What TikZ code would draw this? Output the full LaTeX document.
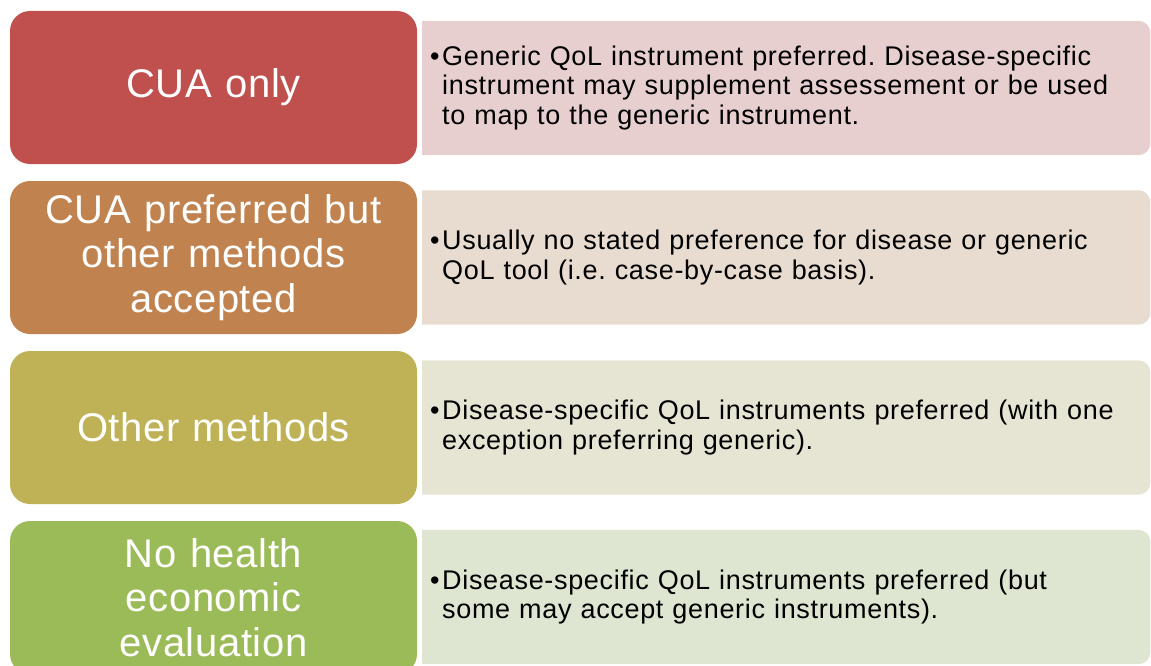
\documentclass[tikz,border=0pt]{standalone}
\usepackage{fontspec}
\setmainfont{Liberation Sans}
\newfontfamily\methodfont[LetterSpace=1.5, WordSpace=1.4]{Liberation Sans}
\newfontfamily\notefont[LetterSpace=2.5, WordSpace=2]{Liberation Sans}
\definecolor{cuared}{RGB}{192, 80, 77}
\definecolor{cuaorange}{RGB}{192, 131, 80}
\definecolor{otherolive}{RGB}{191, 178, 86}
\definecolor{nonegreen}{RGB}{155, 187, 89}
\definecolor{cuapink}{RGB}{232, 207, 207}
\definecolor{cuatan}{RGB}{232, 220, 208}
\definecolor{othercream}{RGB}{230, 229, 212}
\definecolor{nonesage}{RGB}{222, 230, 209}
\usepackage{tikz}
\usetikzlibrary{backgrounds}
\frenchspacing

\tikzset{
  method/.style={fill=#1, rounded corners=20pt, minimum width=407pt, minimum height=153pt,
    text width=395pt, align=center, inner sep=0pt, text=white,
    font=\methodfont\fontsize{40}{44.5}\selectfont},
  note/.style={anchor=west, minimum height=134pt, text width=712pt, inner xsep=8pt,
    inner ysep=0pt, align=left, font=\notefont\fontsize{27}{29.5}\selectfont},
  notefill/.style={fill=#1, rounded corners=12pt},
}
% bullet with the lines hanging after it
\newcommand{\qolnote}[1]{\makebox[12pt][l]{•}\parbox[t]{700pt}{\raggedright #1}}

\begin{document}
\begin{tikzpicture}[x=1pt, y=-1pt]
  \useasboundingbox (0, 0) rectangle (1151, 666);

  % Methods
  \node[method=cuared] (cuaonly) at (213.5, 87.5) {CUA only};
  \node[method=cuaorange] (cuapref) at (213.5, 257.5) {CUA preferred but\\other methods\\accepted};
  \node[method=otherolive] (othermeth) at (213.5, 427.5) {Other methods};
  \node[method=nonegreen] (nohee) at (213.5, 597.5) {No health\\economic\\evaluation};

  % QoL instruments
  \node[note] (cuaonlynote) at (422, 88) {\qolnote{Generic QoL instrument preferred. Disease-specific\\
    instrument may supplement assessement or be used\\to map to the generic instrument.}};
  \node[note] (cuaprefnote) at (422, 257.5) {\qolnote{Usually no stated preference for disease or generic\\
    QoL tool (i.e. case-by-case basis).}};
  \node[note] (othermethnote) at (422, 427.5) {\qolnote{Disease-specific QoL instruments preferred (with one\\
    exception preferring generic).}};
  \node[note] (noheenote) at (422, 597) {\qolnote{Disease-specific QoL instruments preferred (but\\
    some may accept generic instruments).}};

  % note backgrounds, square on the left
  \begin{scope}[on background layer]
    \foreach \n/\c in {cuaonlynote/cuapink, cuaprefnote/cuatan, othermethnote/othercream, noheenote/nonesage} {
      \begin{scope}
        \clip (\n.north west) rectangle ([xshift=1pt]\n.south east);
        \fill[notefill=\c] ([xshift=-20pt]\n.north west) rectangle (\n.south east);
      \end{scope}
    }
  \end{scope}
\end{tikzpicture}
\end{document}
